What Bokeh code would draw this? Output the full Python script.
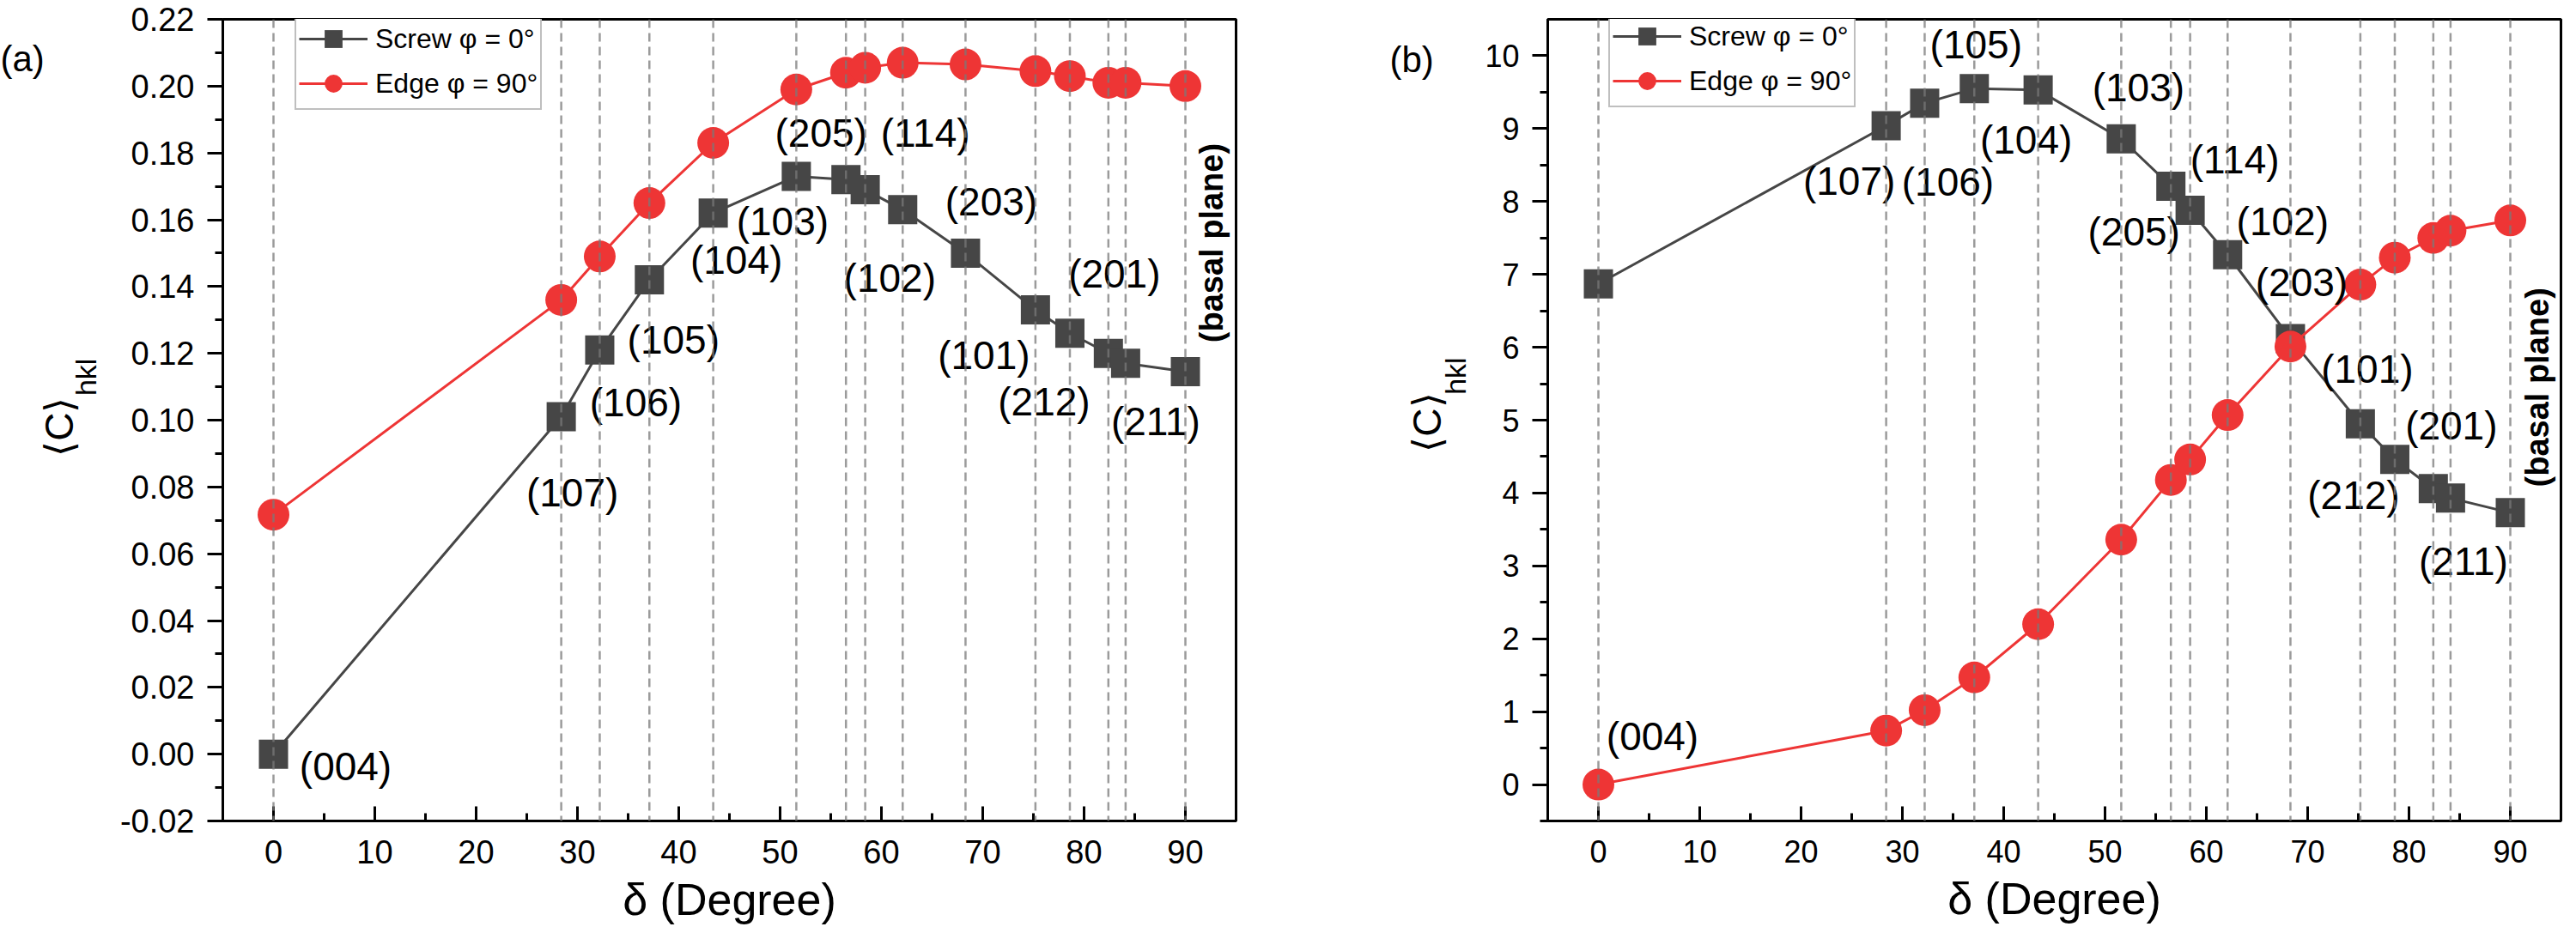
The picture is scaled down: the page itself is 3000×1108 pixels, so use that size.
import numpy as np
from bokeh.plotting import figure
from bokeh.models import (Range1d, FixedTicker, PrintfTickFormatter, Span, Legend,
                          LegendItem, ColumnDataSource)
from bokeh.layouts import row
from bokeh.embed import file_html
from bokeh.resources import INLINE
from bokeh.core.properties import value

# ---------------- data ----------------
delta = [0, 28.4, 32.2, 37.1, 43.4, 51.6, 56.5, 58.4, 62.1, 68.3, 75.2, 78.6, 82.4, 84.1, 90]
planes = ["(004)", "(107)", "(106)", "(105)", "(104)", "(103)", "(205)", "(114)",
          "(102)", "(203)", "(101)", "(212)", "(201)", "(211)", "(basal plane)"]

screw_a = [0.000, 0.101, 0.121, 0.142, 0.162, 0.173, 0.172, 0.169, 0.163, 0.150,
           0.133, 0.126, 0.120, 0.117, 0.1145]
edge_a = [0.0717, 0.136, 0.149, 0.165, 0.183, 0.199, 0.204, 0.2055, 0.207, 0.2065,
          0.2045, 0.203, 0.201, 0.201, 0.200]

screw_b = [6.87, 9.04, 9.35, 9.55, 9.53, 8.86, 8.21, 7.88, 7.27, 6.12,
           4.95, 4.46, 4.06, 3.93, 3.73]
edge_b = [0.0, 0.74, 1.02, 1.47, 2.20, 3.36, 4.18, 4.46, 5.07, 6.01,
          6.86, 7.23, 7.50, 7.60, 7.74]

x_ticks = [0, 10, 20, 30, 40, 50, 60, 70, 80, 90]
x_minor = [5, 15, 25, 35, 45, 55, 65, 75, 85]
ya_ticks = [-0.02, 0.00, 0.02, 0.04, 0.06, 0.08, 0.10, 0.12, 0.14, 0.16, 0.18, 0.20, 0.22]
ya_minor = [-0.01, 0.01, 0.03, 0.05, 0.07, 0.09, 0.11, 0.13, 0.15, 0.17, 0.19, 0.21]
yb_ticks = [0, 1, 2, 3, 4, 5, 6, 7, 8, 9, 10]
yb_minor = [-0.5, 0.5, 1.5, 2.5, 3.5, 4.5, 5.5, 6.5, 7.5, 8.5, 9.5]

legend_labels = ["Screw \u03c6 = 0\u00b0", "Edge \u03c6 = 90\u00b0"]
x_title = "\u03b4 (Degree)"
y_title_main = "\u27e8C\u27e9"
y_title_sub = "hkl"

# label offsets (pixels, relative to the screw point of the same plane)
dx_a = [84, 13, 42, 28, 27, -16, -29, 70, -15, 30, -60, -30, 7, 35]
dy_a = [14, 88, 61, 70, 55, 53, -54, -66, 80, -60, 53, 80, -93, 68]
basal_a = (30, -150)
dx_b = [63, -43, 27, 2, -14, 20, -43, 52, 64, 13, 8, -48, 21, 15]
dy_b = [527, 65, 92, -51, 58, -60, 53, -59, -39, -65, -64, 42, -73, 74]
basal_b = (31, -146)

# ---------------- style ----------------
FONT = "Liberation Sans"
SCREW = "#464646"
EDGE = "#EE3535"
H = 1090
TOP = 22
BOTTOM = 134
FRAME_W = 1180


def panel(screw, edge, yr, yticks, yminor, fmt, tick_fs, dx, dy, basal, leg_loc, bl, br):
    p = figure(width=bl + FRAME_W + br, height=H, x_range=Range1d(-5, 95), y_range=yr,
               output_backend="svg", toolbar_location=None,
               min_border_left=bl, min_border_right=br, min_border_top=TOP,
               min_border_bottom=BOTTOM)
    p.grid.visible = False
    p.outline_line_color = "black"
    p.outline_line_width = 3
    p.background_fill_color = "white"
    p.border_fill_color = "white"

    src = ColumnDataSource(dict(x=delta, screw=screw, edge=edge))
    l1 = p.line("x", "screw", source=src, line_color=SCREW, line_width=3)
    s1 = p.scatter("x", "screw", source=src, marker="square", size=34,
                   fill_color=SCREW, line_color=None)
    l2 = p.line("x", "edge", source=src, line_color=EDGE, line_width=3)
    s2 = p.scatter("x", "edge", source=src, marker="circle", size=37,
                   fill_color=EDGE, line_color=None)

    lab = ColumnDataSource(dict(x=delta[:14], y=screw[:14], t=planes[:14], dx=dx, dy=dy))
    p.text("x", "y", text="t", source=lab, x_offset="dx", y_offset="dy",
           text_font=value(FONT), text_font_size="46px", text_color="black",
           text_align="center", text_baseline="middle")
    bsrc = ColumnDataSource(dict(x=delta[14:], y=screw[14:], t=planes[14:]))
    p.text("x", "y", text="t", source=bsrc, x_offset=basal[0], y_offset=basal[1],
           angle=np.pi / 2, text_font=value(FONT), text_font_size="38px",
           text_font_style="bold", text_color="black",
           text_align="center", text_baseline="middle")

    for d in delta:
        p.add_layout(Span(location=d, dimension="height", line_color="#7a7a7a",
                          line_alpha=0.75, line_width=2.5, line_dash="10 6"))

    legend = Legend(items=[LegendItem(label=legend_labels[0], renderers=[l1, s1]),
                           LegendItem(label=legend_labels[1], renderers=[l2, s2])],
                    location=leg_loc, glyph_width=80, glyph_height=52, spacing=-10,
                    padding=3, margin=0, label_standoff=9,
                    label_text_font=FONT, label_text_font_size="32px",
                    label_text_color="black",
                    border_line_color="#7f7f7f", border_line_width=2,
                    background_fill_color="white", background_fill_alpha=1)
    p.add_layout(legend)

    xa = p.xaxis[0]
    xa.ticker = FixedTicker(ticks=x_ticks, minor_ticks=x_minor)
    xa.major_tick_in = 17
    xa.major_tick_out = 0
    xa.minor_tick_in = 9
    xa.minor_tick_out = 0
    xa.major_label_standoff = 22
    xa.axis_label = x_title
    xa.axis_label_standoff = 10
    xa.axis_label_text_font = FONT
    xa.axis_label_text_font_size = "52px"
    xa.axis_label_text_font_style = "normal"
    xa.axis_label_text_color = "black"

    ya = p.yaxis[0]
    ya.ticker = FixedTicker(ticks=yticks, minor_ticks=yminor)
    if fmt:
        ya.formatter = PrintfTickFormatter(format=fmt)
    ya.major_tick_in = 0
    ya.major_tick_out = 18
    ya.minor_tick_in = 0
    ya.minor_tick_out = 9
    ya.major_label_standoff = 15

    for ax in (xa, ya):
        ax.axis_line_width = 3
        ax.axis_line_color = "black"
        ax.major_tick_line_width = 3
        ax.minor_tick_line_width = 3
        ax.major_tick_line_color = "black"
        ax.minor_tick_line_color = "black"
        ax.major_label_text_font = FONT
        ax.major_label_text_font_size = tick_fs
        ax.major_label_text_color = "black"
    return p


def labfig(w, letter, lx, ly, cx, cy, hx, hy):
    p = figure(width=w, height=H, x_range=Range1d(0, w), y_range=Range1d(-H, 0),
               output_backend="svg", toolbar_location=None, min_border=0,
               x_axis_location=None, y_axis_location=None)
    p.grid.visible = False
    p.outline_line_color = None
    p.text(x=[lx], y=[-ly], text=[letter], text_font=value(FONT),
           text_font_size="42px", text_align="left", text_baseline="middle",
           text_color="black")
    p.text(x=[cx], y=[-cy], text=[y_title_main], angle=np.pi / 2,
           text_font=value(FONT), text_font_size="46px", text_align="center",
           text_baseline="middle", text_color="black")
    p.text(x=[hx], y=[-hy], text=[y_title_sub], angle=np.pi / 2,
           text_font=value(FONT), text_font_size="34px", text_align="center",
           text_baseline="middle", text_color="black")
    return p


fig_a = panel(screw_a, edge_a, Range1d(-0.02, 0.22), ya_ticks, ya_minor, "%.2f", "38px",
              dx_a, dy_a, basal_a, (84, 828), 140, 3)
fig_b = panel(screw_b, edge_b, Range1d(-0.5, 10.5), yb_ticks, yb_minor, None, "36px",
              dx_b, dy_b, basal_b, (71, 831), 85, 2)

lab_a = labfig(119, "(a)", 0, 54, 68, 554, 99, 486.5)
lab_b = labfig(275, "(b)", 176, 55, 219, 548, 252, 485)

layout = row(lab_a, fig_a, lab_b, fig_b)

with open("out.html", "w") as f:
    f.write(file_html(layout, INLINE))
